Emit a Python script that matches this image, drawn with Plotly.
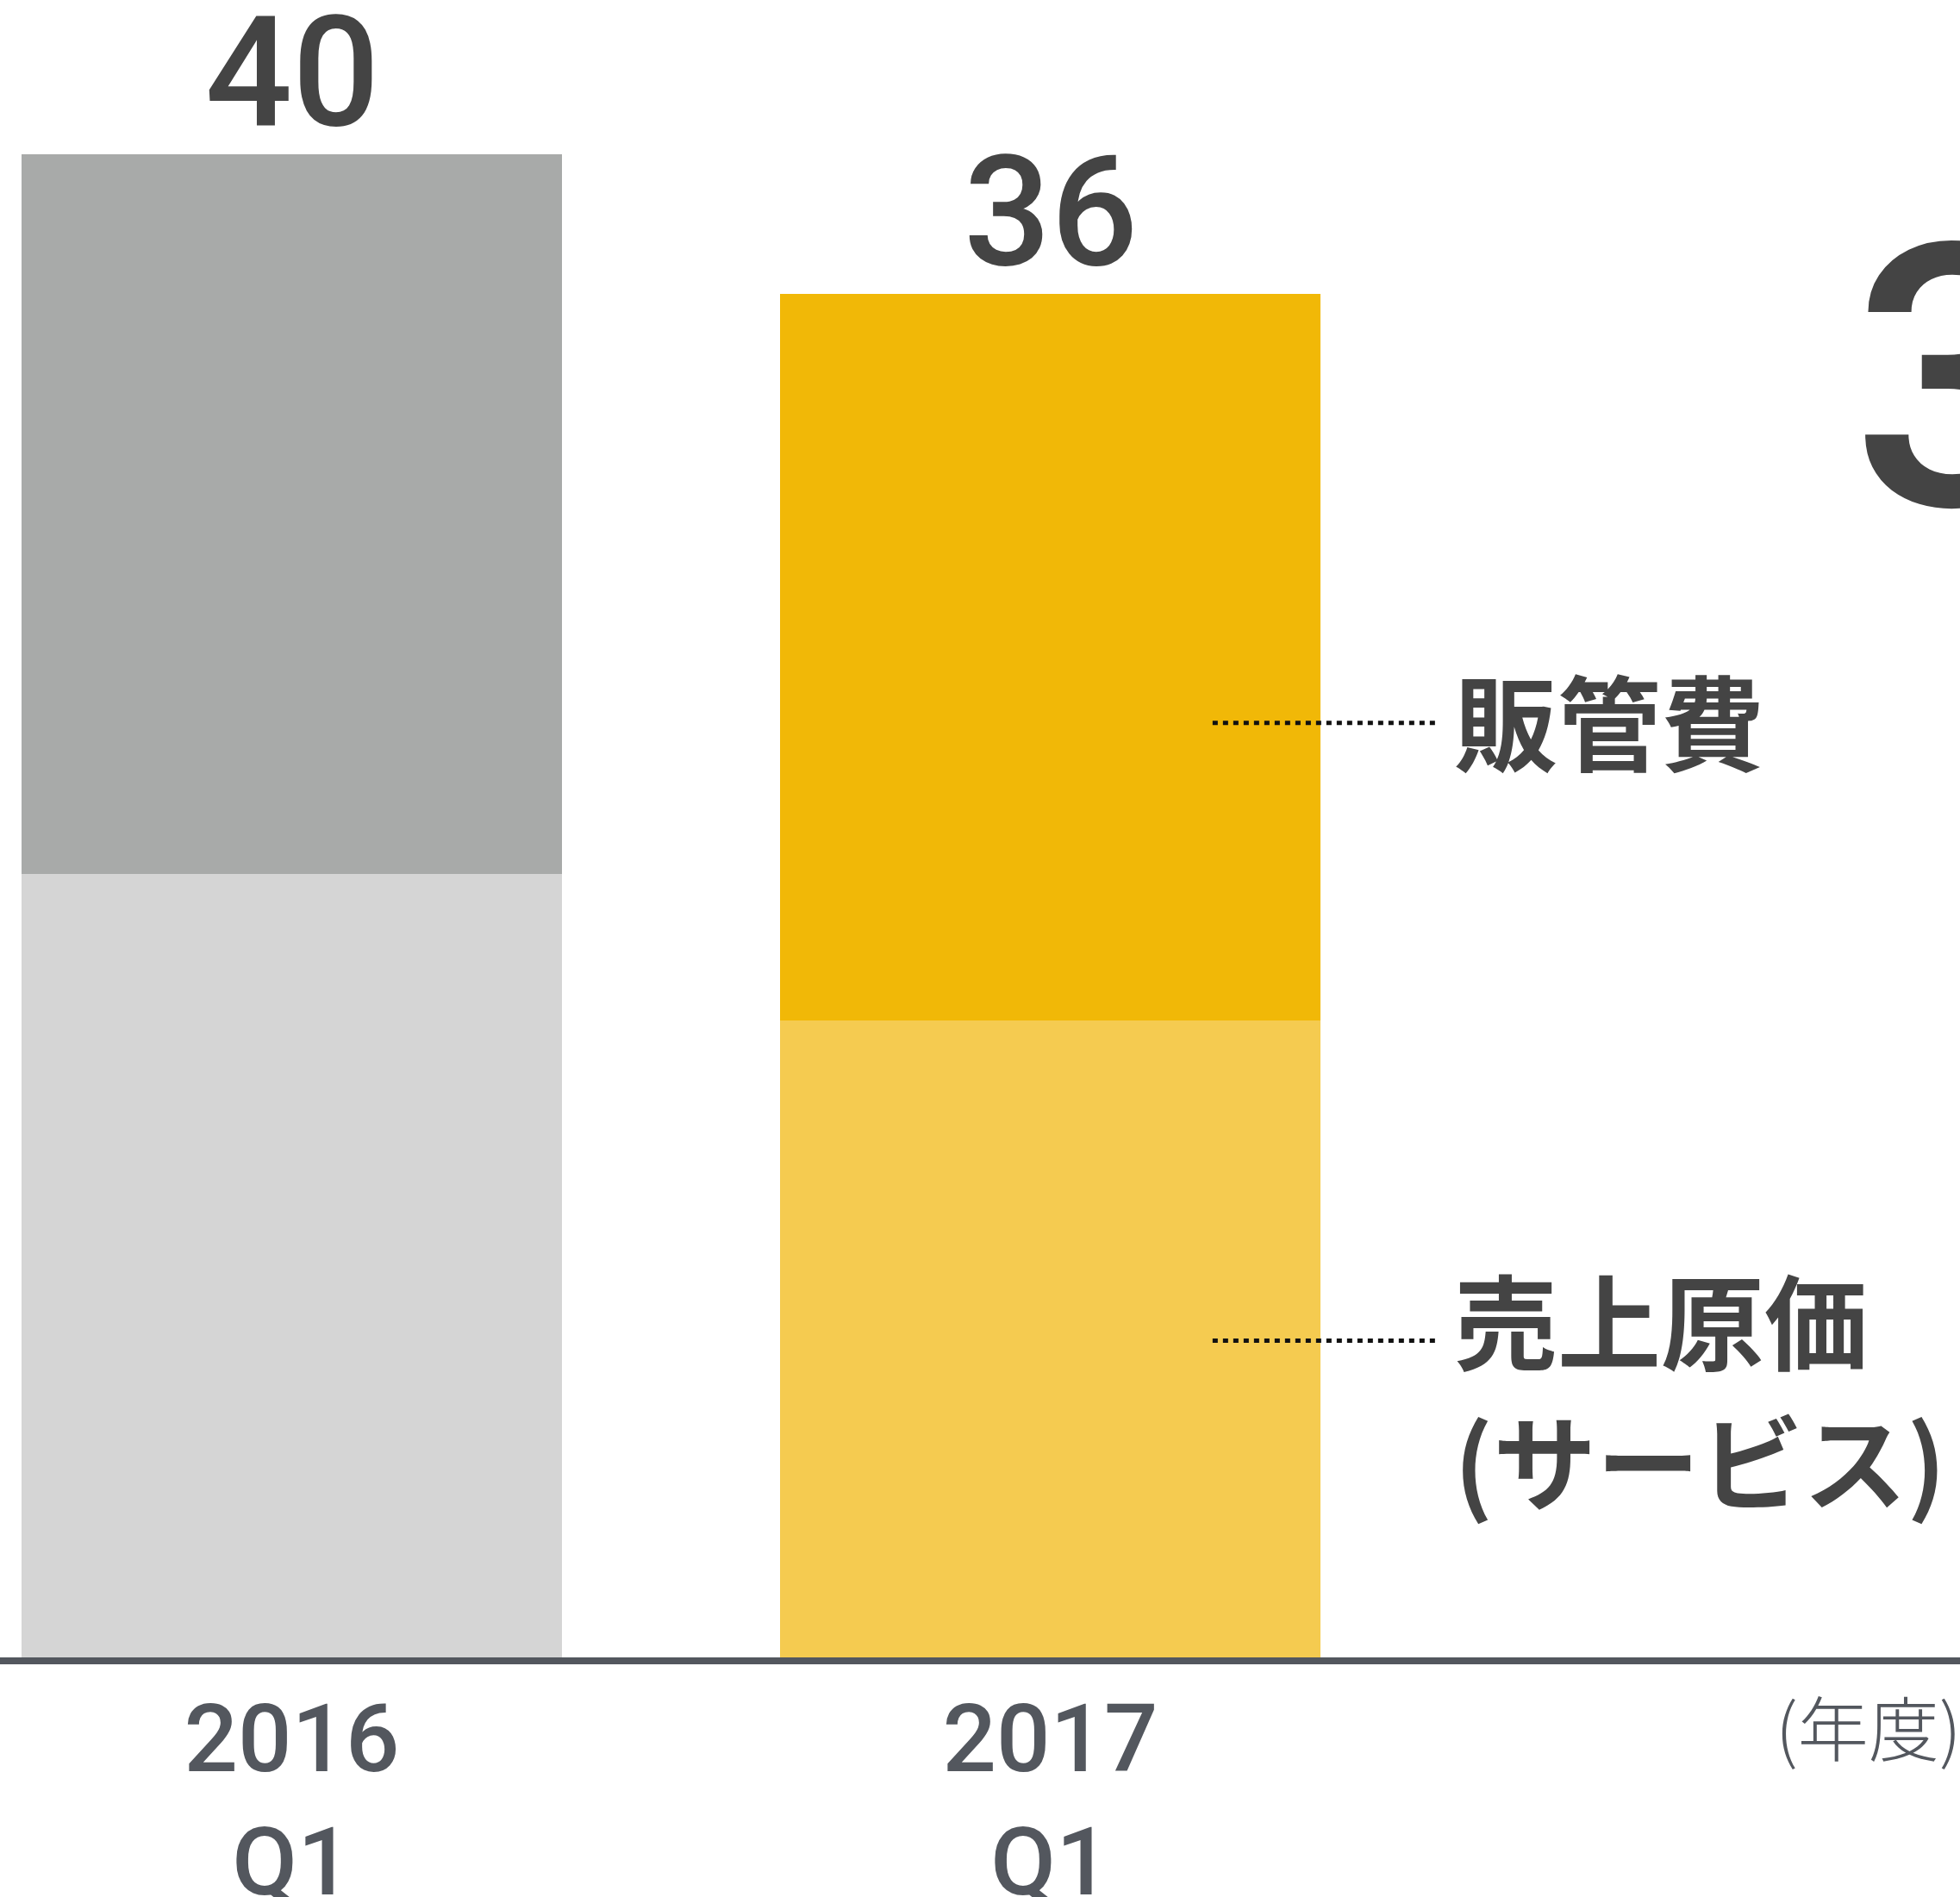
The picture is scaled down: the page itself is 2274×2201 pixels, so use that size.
import plotly.graph_objects as go

categories = ["2016<br>Q1", "2017<br>Q1"]
cost_of_sales = [20.9, 17.0]      # 売上原価(サービス)
sga = [19.1, 19.3]                # 販管費
total_labels = ["40", "36"]
lower_colors = ["#d5d5d5", "#f5cb50"]
upper_colors = ["#a8aaa9", "#f1b807"]
series_labels = ["販管費", "売上原価<br>(サービス)"]
unit_label = "(年度)"
side_big_text = "3"

W, H = 2274, 2201
BOTTOM = 1927
PX_PER_UNIT = 43.7
fig = go.Figure()
fig.add_trace(go.Bar(x=categories, y=cost_of_sales, marker=dict(color=lower_colors, line=dict(width=0)),
                     width=0.7125, hoverinfo="skip"))
fig.add_trace(go.Bar(x=categories, y=sga, marker=dict(color=upper_colors, line=dict(width=0)),
                     width=0.7125, hoverinfo="skip"))

totals = [a + b for a, b in zip(cost_of_sales, sga)]
for c, t, lab in zip(categories, totals, total_labels):
    fig.add_annotation(x=c, y=t, text=lab, showarrow=False, yanchor="bottom", yshift=-11,
                       font=dict(family="Roboto, Liberation Sans, Arial", size=178, color="#444444", weight=500))

# leader lines (dotted) from 2017 bar to labels
lead_x0, lead_x1 = 1.214, 1.511
upper_y = 24.9
lower_y = cost_of_sales[1] / 2
for yv in [upper_y, lower_y]:
    fig.add_shape(type="line", x0=lead_x0, x1=lead_x1, y0=yv, y1=yv, xref="x", yref="y",
                  line=dict(color="#111111", width=5, dash="6px,6px"))

label_font = dict(family="Noto Sans CJK JP", size=120, color="#444444", weight="bold")
fig.add_annotation(x=1.53, y=upper_y, text=series_labels[0], showarrow=False, xanchor="left", yanchor="middle",
                   yshift=5, font=label_font)
for i, line in enumerate(series_labels[1].split("<br>")):
    fig.add_annotation(x=1.53, y=lower_y, text=line, showarrow=False, xanchor="left", yanchor="middle",
                       yshift=27 - i * 163, font=label_font)

fig.add_annotation(x=1.0, xref="paper", y=0, yref="paper", text=unit_label, showarrow=False,
                   xanchor="right", yanchor="top", yshift=-13, xshift=4,
                   font=dict(family="Noto Sans CJK JP", size=82, color="#53575e", weight=300))

fig.add_annotation(x=2146 / W, xref="paper", y=(BOTTOM - 440) / PX_PER_UNIT, yref="y", text=side_big_text,
                   showarrow=False, xanchor="left", yanchor="middle",
                   font=dict(family="Roboto, Liberation Sans, Arial", size=426, color="#444444", weight=500))

fig.add_shape(type="line", x0=0, x1=1, xref="paper", y0=0, y1=0, yref="paper",
              line=dict(color="#53575e", width=8))

fig.update_layout(
    width=W, height=H, barmode="stack", bargap=0, showlegend=False,
    margin=dict(l=0, r=0, t=0, b=H - BOTTOM, autoexpand=False),
    paper_bgcolor="white", plot_bgcolor="white",
    xaxis=dict(range=[-0.3847, 2.1994], showgrid=False, zeroline=False, showline=False, ticks="",
               tickfont=dict(family="Roboto, Liberation Sans, Arial", size=110, color="#53575e", weight=500),
               ticklabelstandoff=17, fixedrange=True, automargin=False),
    yaxis=dict(range=[0, BOTTOM / PX_PER_UNIT], visible=False, fixedrange=True, automargin=False),
)

fig.write_html("out.html", config=dict(displayModeBar=False),
               post_script="document.body.style.margin='0';document.body.style.overflow='hidden';")
